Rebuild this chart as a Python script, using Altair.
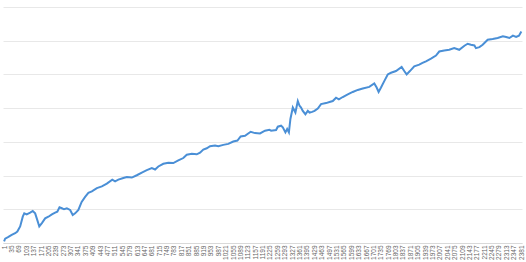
import altair as alt
import pandas as pd

# traced series (index, value)
idx = [1, 6, 21, 36, 52, 62, 75, 87, 94, 105, 121, 133, 144, 154, 163, 175, 190, 205,
       221, 236, 246, 256, 267, 277, 290, 305, 317, 328, 343, 358, 374, 389, 405, 428,
       451, 474, 499, 512, 527, 550, 566, 589, 612, 635, 658, 681, 696, 711, 734, 757,
       780, 803, 826, 842, 865, 888, 903, 918, 934, 949, 972, 987, 1010, 1033, 1056,
       1075, 1090, 1110, 1136, 1156, 1179, 1202, 1222, 1230, 1253, 1261, 1276, 1284,
       1296, 1304, 1312, 1319, 1330, 1342, 1353, 1361, 1368, 1376, 1388, 1399, 1407,
       1419, 1430, 1445, 1460, 1483, 1499, 1514, 1529, 1542, 1560, 1583, 1606, 1629,
       1652, 1682, 1705, 1716, 1725, 1736, 1751, 1767, 1782, 1805, 1831, 1843, 1854,
       1869, 1889, 1912, 1927, 1943, 1966, 1989, 2004, 2027, 2050, 2073, 2096, 2120,
       2135, 2150, 2166, 2173, 2189, 2204, 2227, 2250, 2273, 2297, 2312, 2327, 2343,
       2358, 2371, 2382]
vals = [5, 13, 18, 24, 29, 34, 49, 78, 88, 85, 90, 95, 88, 68, 49, 59, 73, 78,
        85, 90, 93, 106, 103, 100, 103, 98, 83, 88, 98, 122, 137, 149, 153, 163,
        168, 176, 188, 183, 188, 193, 196, 194, 201, 209, 216, 222, 218, 227, 235, 238,
        237, 245, 252, 262, 265, 263, 268, 277, 281, 287, 289, 287, 291, 294, 301,
        304, 316, 318, 330, 326, 325, 333, 336, 333, 335, 345, 348, 343,
        328, 338, 328, 368, 402, 387, 421, 407, 402, 392, 382, 392, 387,
        389, 392, 399, 412, 415, 418, 421, 431, 426, 433, 441, 448, 454,
        458, 463, 473, 461, 448, 461, 480, 500, 505, 510, 522, 510, 500,
        510, 524, 529, 534, 539, 547, 556, 568, 571, 573, 578, 573, 585,
        591, 588, 586, 578, 581, 588, 603, 605, 608, 613, 611, 608, 615,
        611, 615, 627]

tick_labels = list(range(1, 2382, 34))

df = pd.DataFrame({"x": idx, "y": vals})

chart = alt.Chart(df).mark_line(color="#4a8fd6", strokeWidth=2).encode(
    x=alt.X("x:Q", scale=alt.Scale(domain=[-4, 2385], nice=False, zero=False),
            axis=alt.Axis(values=tick_labels, format="d", labelAngle=-90, labelAlign="right",
                          labelBaseline="middle", labelFontSize=6.5, labelColor="#666666",
                          labelFont="Liberation Sans", labelPadding=2, labelOverlap=False,
                          ticks=False, grid=False, domainColor="#d9d9d9", title=None,
                          labelFlush=False)),
    y=alt.Y("y:Q", scale=alt.Scale(domain=[0, 700], nice=False),
            axis=alt.Axis(values=[0, 100, 200, 300, 400, 500, 600, 700], labels=False,
                          ticks=False, domain=False, gridColor="#e8e8e8", title=None)),
).properties(
    width=519, height=236,
    padding={"left": 3, "top": 7, "right": 4, "bottom": 19},
    autosize=alt.AutoSizeParams(type="none"),
).configure(background="white").configure_view(stroke=None)

chart.save("out.html", embed_options={"renderer": "svg", "actions": False})
